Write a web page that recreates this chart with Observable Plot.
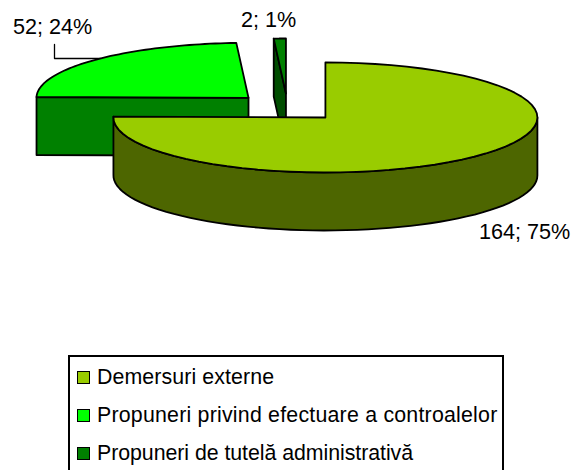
<!DOCTYPE html>
<html><head><meta charset="utf-8">
<script src="https://cdn.jsdelivr.net/npm/d3@7"></script>
<script src="https://cdn.jsdelivr.net/npm/@observablehq/plot@0.6"></script>
<style>
html,body{margin:0;padding:0;background:#fff;overflow:hidden;width:582px;height:470px}
#chart{position:absolute;left:0;top:0}
#legend{position:absolute;left:68px;top:355px;width:436px;height:130px;border:2px solid #000;box-sizing:border-box;font:21.33px "Liberation Sans",Arial,sans-serif;color:#000}
.row{position:absolute;left:7px;height:24px;line-height:24px;white-space:nowrap}
.sw{display:inline-block;width:11px;height:11px;border:1.5px solid #000;margin-right:7px;vertical-align:0}
</style></head><body>
<div id="chart"></div><div id="legend"></div>
<script>
const categories = ["Demersuri externe","Propuneri privind efectuare a controalelor","Propuneri de tutelă administrativă"];
const values = [164,52,2];
const topColors = ["#99CC00","#00FF00","#008000"];
const sideColors = ["#4D6600","#008000","#004D00"];

// pie projection
const cx=287, cy=107, rx=212, ry=55, depth=58, explode=54, tilt=ry/rx;
const total=d3.sum(values);
const deg=Math.PI/180;
let acc=0;
const slices=values.map((v,i)=>{
  const a0=acc/total*360; acc+=v; const a1=acc/total*360; const m=(a0+a1)/2;
  return {i,v,a0,a1,ox:cx+explode*Math.sin(m*deg),oy:cy-explode*tilt*Math.cos(m*deg)};
});
const pt=(s,a,d=0)=>({x:s.ox+rx*Math.sin(a*deg),y:s.oy-ry*Math.cos(a*deg)+d});
const arc=(s,a0,a1,d=0)=>d3.range(0,61).map(t=>pt(s,a0+(a1-a0)*t/60,d));
const rows=[];
const add=(shape,fill,pts)=>{const c=[...pts,pts[0]];c.forEach(p=>rows.push({...p,shape,fill}))};
const apex=(s,d=0)=>({x:s.ox,y:s.oy+d});
// painted back to front
const [big,mid,small]=slices;
add("small-side",sideColors[2],[pt(small,small.a0),apex(small),apex(small,depth),pt(small,small.a0,depth)]);
add("small-top",topColors[2],[apex(small),...arc(small,small.a0,small.a1)]);
add("mid-side",sideColors[1],[pt(mid,mid.a0),apex(mid),apex(mid,depth),pt(mid,mid.a0,depth)]);
add("mid-top",topColors[1],[apex(mid),...arc(mid,mid.a0,mid.a1)]);
add("big-side",sideColors[0],[...arc(big,90,big.a1),...arc(big,big.a1,90,depth)]);
add("big-top",topColors[0],[apex(big),...arc(big,big.a0,big.a1)]);

const labelPos=[{x:524,y:232},{x:52,y:27},{x:268,y:20}];
const labels=slices.map((s,i)=>({text:`${s.v}; ${Math.round(s.v/total*100)}%`,...labelPos[i]}));
const leader=[{x:54,y:44},{x:54,y:58},{x:100,y:58}];

const plot=Plot.plot({
  width:582,height:350,margin:0,
  x:{domain:[0,582],axis:null},
  y:{domain:[350,0],axis:null},
  style:{background:"transparent"},
  marks:[
    Plot.line(leader,{x:"x",y:"y",stroke:"#000",strokeWidth:1.3}),
    Plot.line(rows,{x:"x",y:"y",z:"shape",fill:"fill",stroke:"#000",strokeWidth:1.8}),
    Plot.text(labels,{x:"x",y:"y",text:"text",fontSize:21.6,fontFamily:"Liberation Sans",fill:"#000"})
  ]
});
document.getElementById("chart").append(plot);

const lg=document.getElementById("legend");
const rowSpacing=[0.1,0.22,-0.05];
categories.forEach((c,i)=>{
  const r=document.createElement("div");r.className="row";r.style.top=(8+38*i)+"px";r.style.letterSpacing=rowSpacing[i]+"px";
  const s=document.createElement("span");s.className="sw";s.style.background=topColors[i];
  r.append(s,document.createTextNode(c));lg.append(r);
});
</script></body></html>
